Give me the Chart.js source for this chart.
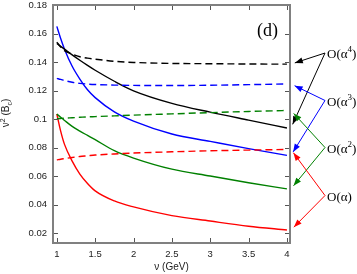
<!DOCTYPE html>
<html>
<head>
<meta charset="utf-8">
<script src="https://cdn.jsdelivr.net/npm/chart.js@4.4.1/dist/chart.umd.min.js"></script>
<style>
  body { margin: 0; background: #fff; }
  #wrap { width: 357px; height: 274px; }
</style>
</head>
<body>
<div id="wrap"><canvas id="chart"></canvas></div>
<script>
// nu (GeV) sample points
const nu = [1, 1.05, 1.1, 1.2, 1.3, 1.4, 1.5, 1.75, 2, 2.5, 3, 3.5, 4];

// solid curves
const a1Solid = [0.1035, 0.0915, 0.0822, 0.0705, 0.0614, 0.0548, 0.0496, 0.0425, 0.0383, 0.0322, 0.0284, 0.0248, 0.0221];
const a2Solid = [0.1035, 0.1012, 0.099, 0.0948, 0.0915, 0.0885, 0.0855, 0.0778, 0.0726, 0.0648, 0.06, 0.0553, 0.051];
const a3Solid = [0.165, 0.1565, 0.149, 0.137, 0.128, 0.1205, 0.115, 0.105, 0.0985, 0.0895, 0.0843, 0.0792, 0.0745];
const a4Solid = [0.153, 0.151, 0.149, 0.145, 0.1412, 0.1376, 0.1342, 0.1265, 0.1198, 0.111, 0.1048, 0.0992, 0.0937];

// dashed curves
const a1Dashed = [0.0713, 0.0718, 0.0722, 0.073, 0.0737, 0.0742, 0.0747, 0.0755, 0.0761, 0.077, 0.0777, 0.0782, 0.0786];
const a2Dashed = [0.1002, 0.1004, 0.1006, 0.1009, 0.1012, 0.1015, 0.1017, 0.1022, 0.1027, 0.1036, 0.1045, 0.1053, 0.106];
const a3Dashed = [0.1285, 0.1278, 0.127, 0.1258, 0.125, 0.1245, 0.1242, 0.1238, 0.1236, 0.1235, 0.1237, 0.1241, 0.1246];
const a4Dashed = [0.154, 0.1505, 0.148, 0.1455, 0.1437, 0.1427, 0.142, 0.1405, 0.1397, 0.139, 0.1388, 0.1386, 0.1385];

const xTicks = [1, 1.5, 2, 2.5, 3, 3.5, 4];
const yTicks = [0.02, 0.04, 0.06, 0.08, 0.1, 0.12, 0.14, 0.16, 0.18];

const orderLabels = ['4', '3', '2', ''];

const pts = arr => arr.map((v, i) => ({ x: nu[i], y: v }));

function line(arr, color, dashed) {
  return {
    data: pts(arr),
    borderColor: color,
    borderWidth: 1.4,
    borderDash: dashed ? [7, 4] : [],
    pointRadius: 0,
    fill: false,
    cubicInterpolationMode: 'monotone'
  };
}

const RED = '#ff0000', GREEN = '#008000', BLUE = '#0000ff', BLACK = '#000000';

// arrows on the right: label anchor (y value) and which series ends they point to
const notes = [
  { sup: orderLabels[0], y: 0.1463, color: BLACK, ends: [a4Dashed, a4Solid] },
  { sup: orderLabels[1], y: 0.113, color: BLUE, ends: [a3Dashed, a3Solid] },
  { sup: orderLabels[2], y: 0.08, color: GREEN, ends: [a2Dashed, a2Solid] },
  { sup: orderLabels[3], y: 0.0463, color: RED, ends: [a1Dashed, a1Solid] }
];

function arrow(ctx, x0, y0, x1, y1, color) {
  const dx = x1 - x0, dy = y1 - y0, len = Math.hypot(dx, dy);
  const ux = dx / len, uy = dy / len;
  const tx = x1 - ux * 4, ty = y1 - uy * 4;
  ctx.strokeStyle = color; ctx.fillStyle = color; ctx.lineWidth = 1;
  ctx.beginPath(); ctx.moveTo(x0, y0); ctx.lineTo(tx, ty); ctx.stroke();
  const hl = 8, hw = 3;
  const bx = tx - ux * hl, by = ty - uy * hl;
  ctx.beginPath();
  ctx.moveTo(tx, ty);
  ctx.lineTo(bx - uy * hw, by + ux * hw);
  ctx.lineTo(bx + uy * hw, by - ux * hw);
  ctx.closePath(); ctx.fill();
}

const decor = {
  id: 'decor',
  afterDraw(chart) {
    const { ctx, chartArea: a, scales: { x, y } } = chart;
    ctx.save();

    // inward ticks on all four sides
    ctx.strokeStyle = '#555'; ctx.lineWidth = 1;
    ctx.beginPath();
    xTicks.forEach(v => {
      const px = Math.round(x.getPixelForValue(v)) + 0.5;
      ctx.moveTo(px, a.bottom); ctx.lineTo(px, a.bottom - 5);
      ctx.moveTo(px, a.top); ctx.lineTo(px, a.top + 5);
    });
    yTicks.forEach(v => {
      const py = Math.round(y.getPixelForValue(v)) + 0.5;
      ctx.moveTo(a.left, py); ctx.lineTo(a.left + 5, py);
      ctx.moveTo(a.right, py); ctx.lineTo(a.right - 5, py);
    });
    ctx.stroke();

    // frame
    ctx.strokeStyle = '#808080'; ctx.lineWidth = 2;
    ctx.strokeRect(a.left, a.top, a.right - a.left, a.bottom - a.top);

    // panel tag
    ctx.fillStyle = '#000';
    ctx.font = '18px "Liberation Serif", serif';
    ctx.textAlign = 'right'; ctx.textBaseline = 'middle';
    ctx.fillText('(d)', a.right - 12, 31);

    // x title
    ctx.font = '10px "Liberation Sans", Arial, sans-serif';
    ctx.textAlign = 'center'; ctx.textBaseline = 'middle';
    ctx.fillStyle = '#222';
    ctx.fillText('ν (GeV)', (a.left + a.right) / 2, 267);

    // y title with super/subscript
    const parts = [
      ['ν', 10, 0], ['2', 7, -4], [' (B', 10, 0], ['c', 7, 3], [')', 10, 0]
    ];
    let w = 0;
    parts.forEach(p => { ctx.font = p[1] + 'px "Liberation Sans", Arial, sans-serif'; w += ctx.measureText(p[0]).width; });
    ctx.translate(9, 113);
    ctx.rotate(-Math.PI / 2);
    ctx.textAlign = 'left'; ctx.textBaseline = 'alphabetic';
    let cx = -w / 2;
    parts.forEach(p => {
      ctx.font = p[1] + 'px "Liberation Sans", Arial, sans-serif';
      ctx.fillText(p[0], cx, p[2]);
      cx += ctx.measureText(p[0]).width;
    });
    ctx.setTransform(1, 0, 0, 1, 0, 0);

    // order labels and arrows
    notes.forEach(n => {
      const sx = a.right + 35, sy = y.getPixelForValue(n.y);
      n.ends.forEach(arr => {
        arrow(ctx, sx, sy, a.right + 1, y.getPixelForValue(arr[arr.length - 1]), n.color);
      });
      ctx.fillStyle = '#000';
      ctx.textAlign = 'left'; ctx.textBaseline = 'middle';
      let tx = sx + 2;
      const ty = sy + 2;
      ctx.font = '13px "Liberation Serif", serif';
      ctx.fillText('O(α', tx, ty); tx += ctx.measureText('O(α').width;
      if (n.sup) {
        ctx.font = '9px "Liberation Serif", serif';
        ctx.fillText(n.sup, tx, ty - 5); tx += ctx.measureText(n.sup).width;
      }
      ctx.font = '13px "Liberation Serif", serif';
      ctx.fillText(')', tx, ty);
    });
    ctx.restore();
  }
};

new Chart(document.getElementById('chart'), {
  type: 'line',
  data: {
    datasets: [
      line(a4Dashed, BLACK, true),
      line(a3Dashed, BLUE, true),
      line(a2Dashed, GREEN, true),
      line(a1Dashed, RED, true),
      line(a4Solid, BLACK, false),
      line(a3Solid, BLUE, false),
      line(a2Solid, GREEN, false),
      line(a1Solid, RED, false)
    ]
  },
  options: {
    responsive: true,
    maintainAspectRatio: false,
    animation: false,
    layout: { padding: { top: 5, right: 67, left: 0, bottom: 0 } },
    plugins: { legend: { display: false }, tooltip: { enabled: false } },
    scales: {
      x: {
        type: 'linear',
        min: 0.95,
        max: 4.04,
        afterBuildTicks: s => { s.ticks = xTicks.map(v => ({ value: v })); },
        afterFit: s => { s.height = 31; s.paddingLeft = 0; s.paddingRight = 0; },
        grid: { display: false, drawTicks: false },
        border: { display: false },
        ticks: {
          padding: 6,
          color: '#222',
          font: { family: '"Liberation Sans", Arial, sans-serif', size: 9.5 },
          callback: v => String(v)
        }
      },
      y: {
        min: 0.013,
        max: 0.18,
        afterBuildTicks: s => { s.ticks = yTicks.map(v => ({ value: v })); },
        afterFit: s => { s.width = 53; s.paddingTop = 0; s.paddingBottom = 0; },
        grid: { display: false, drawTicks: false },
        border: { display: false },
        ticks: {
          padding: 6,
          color: '#222',
          font: { family: '"Liberation Sans", Arial, sans-serif', size: 9.5 },
          callback: v => String(Math.round(v * 100) / 100)
        }
      }
    }
  },
  plugins: [decor]
});
</script>
</body>
</html>
